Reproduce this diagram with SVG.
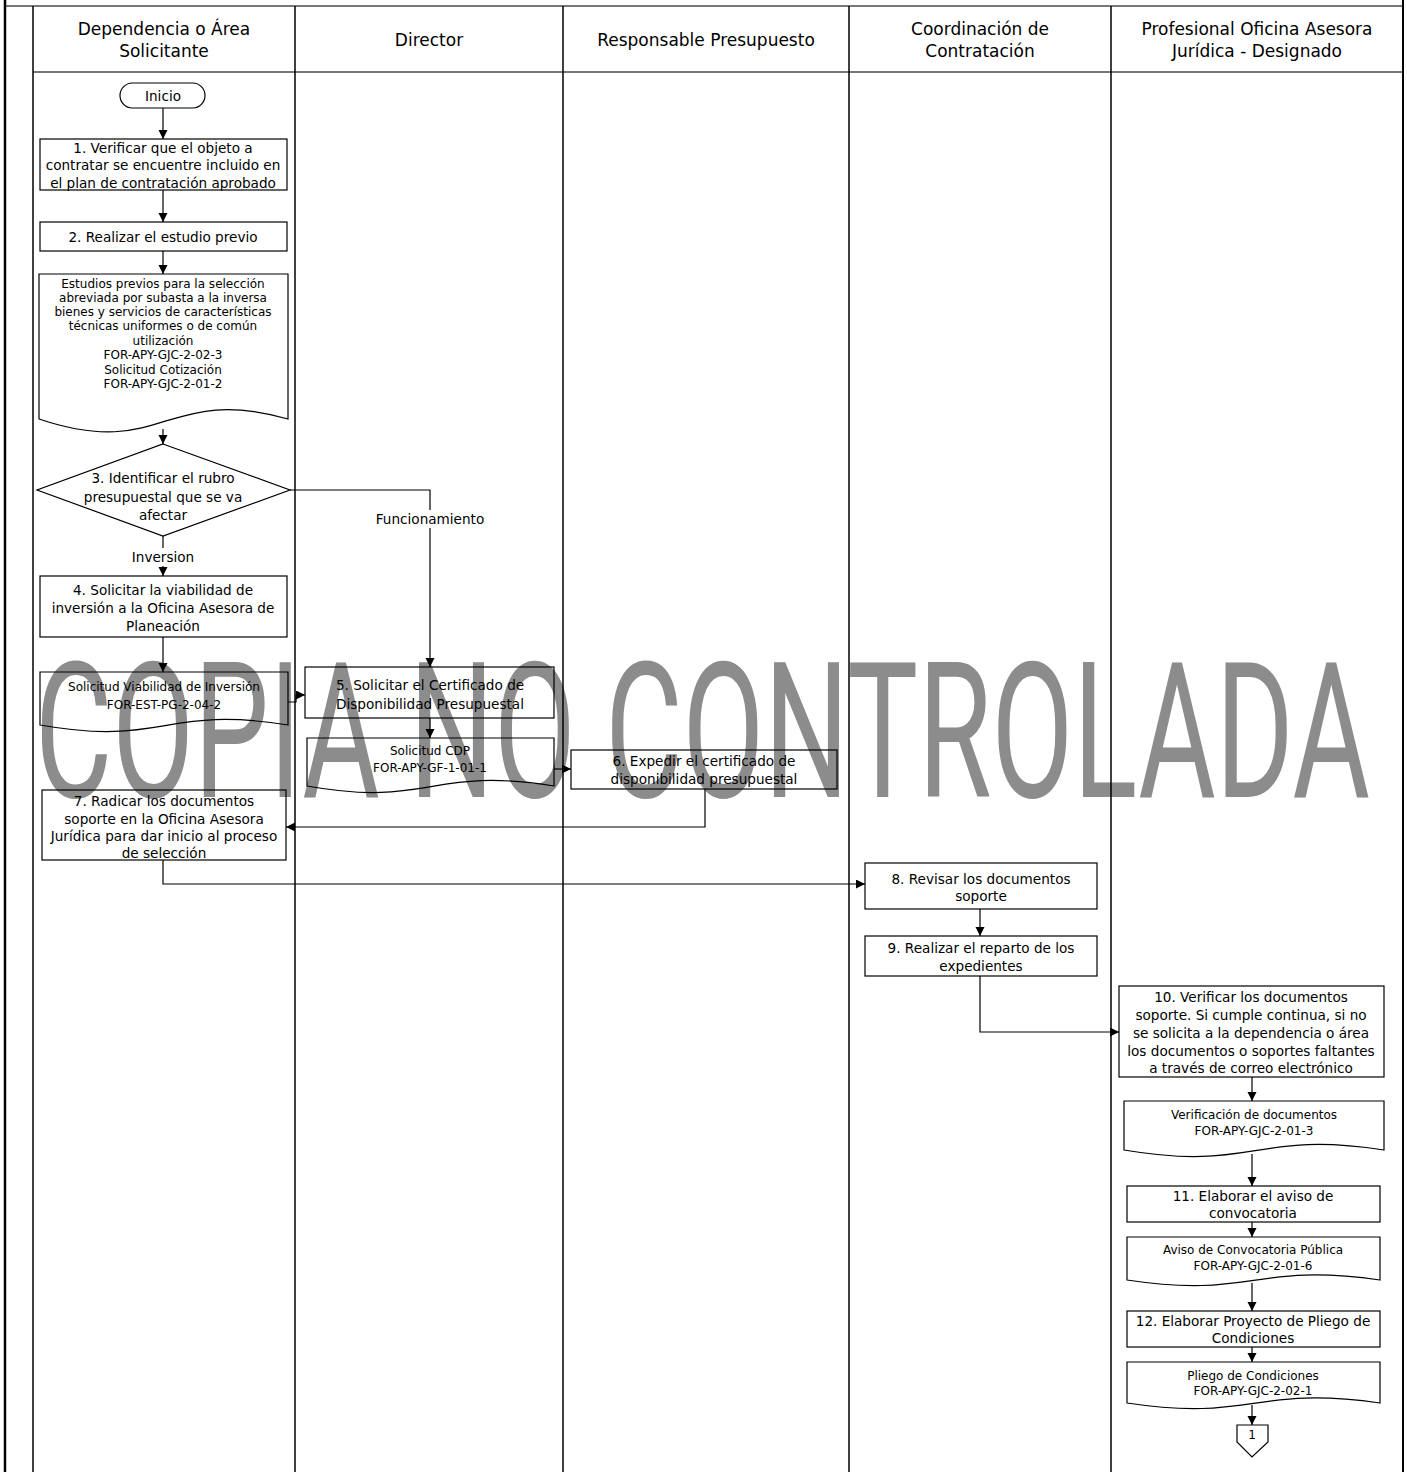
<svg xmlns="http://www.w3.org/2000/svg" width="1407" height="1472" viewBox="0 0 1407 1472">
<defs>
<marker id="arr" markerUnits="userSpaceOnUse" markerWidth="10" markerHeight="10" refX="9" refY="4.5" orient="auto">
<path d="M0,0 L9,4.5 L0,9 z" fill="#000"/>
</marker>
<style>
text{font-family:"DejaVu Sans",Verdana,sans-serif;fill:#000;text-anchor:middle;dominant-baseline:central}
.h{font-size:17px}
.t{font-size:13.6px}
.s{font-size:12px}
.shape{fill:none;stroke:#000;stroke-width:1.2}
.lane{stroke:#000;stroke-width:1.5;fill:none}
.gline{stroke:#777;stroke-width:2;fill:none}
.c{fill:none;stroke:#000;stroke-width:1.2}
.ca{fill:none;stroke:#000;stroke-width:1.2;marker-end:url(#arr)}
.wm{font-family:Roboto,"DejaVu Sans",sans-serif;font-weight:400;font-size:190px;fill:#8c8c8c;text-anchor:start;dominant-baseline:alphabetic}
</style>
</defs>
<rect x="0" y="0" width="1407" height="1472" fill="#fff"/>
<text class="wm" x="35" y="797" textLength="1335" lengthAdjust="spacingAndGlyphs">COPIA NO CONTROLADA</text>

<g id="pool">
<line class="gline" x1="5" y1="6" x2="1403" y2="6"/>
<line class="gline" x1="33" y1="72" x2="1403" y2="72"/>
<line class="lane" x1="5" y1="0" x2="5" y2="1472" style="stroke-width:2.5"/>
<line class="lane" x1="1403" y1="0" x2="1403" y2="1472" style="stroke-width:2"/>
<line class="lane" x1="33" y1="6" x2="33" y2="1472"/>
<line class="lane" x1="295" y1="6" x2="295" y2="1472"/>
<line class="lane" x1="563" y1="6" x2="563" y2="1472"/>
<line class="lane" x1="849" y1="6" x2="849" y2="1472"/>
<line class="lane" x1="1111" y1="6" x2="1111" y2="1472"/>
<text class="h" x="164" y="29">Dependencia o Área</text>
<text class="h" x="164" y="51">Solicitante</text>
<text class="h" x="429" y="40">Director</text>
<text class="h" x="706" y="40">Responsable Presupuesto</text>
<text class="h" x="980" y="29">Coordinación de</text>
<text class="h" x="980" y="51">Contratación</text>
<text class="h" x="1257" y="29">Profesional Oficina Asesora</text>
<text class="h" x="1257" y="51">Jurídica - Designado</text>
</g>

<g id="connectors">
<line class="ca" x1="163" y1="108" x2="163" y2="139"/>
<line class="ca" x1="163" y1="190" x2="163" y2="222"/>
<line class="ca" x1="163" y1="251" x2="163" y2="274"/>
<line class="ca" x1="163" y1="429" x2="163" y2="444"/>
<line class="ca" x1="163" y1="536" x2="163" y2="576"/>
<polyline class="ca" points="290,490 430,490 430,667"/>
<line class="ca" x1="163" y1="637" x2="163" y2="672"/>
<polyline class="ca" points="288,702 296,702 296,695 305,695"/>
<line class="ca" x1="430" y1="718" x2="430" y2="738"/>
<line class="ca" x1="554" y1="769" x2="571" y2="769"/>
<polyline class="ca" points="705,789 705,827 286,827"/>
<polyline class="ca" points="163,860 163,884 865,884"/>
<line class="ca" x1="980" y1="909" x2="980" y2="936"/>
<polyline class="ca" points="980,976 980,1032 1119,1032"/>
<line class="ca" x1="1252" y1="1077" x2="1252" y2="1101"/>
<line class="ca" x1="1252" y1="1154" x2="1252" y2="1186"/>
<line class="ca" x1="1252" y1="1222" x2="1252" y2="1237"/>
<line class="ca" x1="1252" y1="1283" x2="1252" y2="1311"/>
<line class="ca" x1="1252" y1="1347" x2="1252" y2="1362"/>
<line class="ca" x1="1252" y1="1405" x2="1252" y2="1425"/>
<rect x="126" y="548" width="74" height="18" fill="#fff"/>
<text class="t" x="163" y="557">Inversion</text>
<rect x="372" y="510" width="116" height="18" fill="#fff"/>
<text class="t" x="430" y="519">Funcionamiento</text>
</g>

<g id="inicio">
<rect class="shape" x="120" y="83" width="85" height="25" rx="12.5"/>
<text class="t" x="163" y="96">Inicio</text>
</g>

<g id="n1">
<rect class="shape" x="40" y="139" width="247" height="51"/>
<text class="t" x="163" y="147.5">1. Verificar que el objeto a</text>
<text class="t" x="163" y="165">contratar se encuentre incluido en</text>
<text class="t" x="163" y="182.5">el plan de contratación aprobado</text>
</g>

<g id="n2">
<rect class="shape" x="40" y="222" width="247" height="29"/>
<text class="t" x="163" y="237">2. Realizar el estudio previo</text>
</g>

<g id="docA">
<path class="shape" d="M39,274 H288 V419 C164,384 164,461 39,419 Z"/>
<text class="s" x="163" y="284">Estudios previos para la selección</text>
<text class="s" x="163" y="298">abreviada por subasta a la inversa</text>
<text class="s" x="163" y="312">bienes y servicios de características</text>
<text class="s" x="163" y="326">técnicas  uniformes o de común</text>
<text class="s" x="163" y="341">utilización</text>
<text class="s" x="163" y="355">FOR-APY-GJC-2-02-3</text>
<text class="s" x="163" y="370">Solicitud Cotización</text>
<text class="s" x="163" y="384">FOR-APY-GJC-2-01-2</text>
</g>

<g id="n3">
<polygon class="shape" points="163,444 290,490 163,536 37,490"/>
<text class="t" x="163" y="478">3. Identificar el rubro</text>
<text class="t" x="163" y="497">presupuestal que se va</text>
<text class="t" x="163" y="515">afectar</text>
</g>

<g id="n4">
<rect class="shape" x="40" y="576" width="247" height="61"/>
<text class="t" x="163" y="590">4. Solicitar la viabilidad de</text>
<text class="t" x="163" y="608">inversión a la Oficina Asesora de</text>
<text class="t" x="163" y="626">Planeación</text>
</g>

<g id="docB">
<path class="shape" d="M40,672 H288 V725 C164,705 164,747 40,725 Z"/>
<text class="s" x="164" y="687">Solicitud Viabilidad de Inversión</text>
<text class="s" x="164" y="705">FOR-EST-PG-2-04-2</text>
</g>

<g id="n5">
<rect class="shape" x="305" y="667" width="249" height="51"/>
<text class="t" x="430" y="685">5. Solicitar el Certificado de</text>
<text class="t" x="430" y="704">Disponibilidad Presupuestal</text>
</g>

<g id="docC">
<path class="shape" d="M307,738 H554 V786 C430,766 430,808 307,786 Z"/>
<text class="s" x="430" y="751">Solicitud CDP</text>
<text class="s" x="430" y="768">FOR-APY-GF-1-01-1</text>
</g>

<g id="n6">
<rect class="shape" x="571" y="750" width="266" height="39"/>
<text class="t" x="704" y="760.5">6. Expedir el certificado de</text>
<text class="t" x="704" y="778.5">disponibilidad presupuestal</text>
</g>

<g id="n7">
<rect class="shape" x="42" y="790" width="244" height="70"/>
<text class="t" x="164" y="801">7. Radicar los documentos</text>
<text class="t" x="164" y="818.5">soporte en la Oficina Asesora</text>
<text class="t" x="164" y="836">Jurídica para dar inicio al proceso</text>
<text class="t" x="164" y="852.5">de selección</text>
</g>

<g id="n8">
<rect class="shape" x="865" y="863" width="232" height="46"/>
<text class="t" x="981" y="879">8. Revisar los documentos</text>
<text class="t" x="981" y="896">soporte</text>
</g>

<g id="n9">
<rect class="shape" x="865" y="936" width="232" height="40"/>
<text class="t" x="981" y="948">9. Realizar el reparto de los</text>
<text class="t" x="981" y="966">expedientes</text>
</g>

<g id="n10">
<rect class="shape" x="1119" y="986" width="265" height="91"/>
<text class="t" x="1251" y="997">10. Verificar los documentos</text>
<text class="t" x="1251" y="1015">soporte. Si cumple continua, si no</text>
<text class="t" x="1251" y="1033">se solicita a la dependencia o área</text>
<text class="t" x="1251" y="1051">los documentos o soportes faltantes</text>
<text class="t" x="1251" y="1068">a través de correo electrónico</text>
</g>

<g id="docD">
<path class="shape" d="M1124,1101 H1384 V1150 C1254,1130 1254,1172 1124,1150 Z"/>
<text class="s" x="1254" y="1115">Verificación de documentos</text>
<text class="s" x="1254" y="1131">FOR-APY-GJC-2-01-3</text>
</g>

<g id="n11">
<rect class="shape" x="1127" y="1186" width="253" height="36"/>
<text class="t" x="1253" y="1196">11. Elaborar el aviso de</text>
<text class="t" x="1253" y="1213">convocatoria</text>
</g>

<g id="docE">
<path class="shape" d="M1127,1237 H1380 V1280 C1253,1262 1253,1299 1127,1280 Z"/>
<text class="s" x="1253" y="1250">Aviso de Convocatoria Pública</text>
<text class="s" x="1253" y="1266">FOR-APY-GJC-2-01-6</text>
</g>

<g id="n12">
<rect class="shape" x="1127" y="1311" width="253" height="36"/>
<text class="t" x="1253" y="1321">12. Elaborar Proyecto de Pliego de</text>
<text class="t" x="1253" y="1338">Condiciones</text>
</g>

<g id="docF">
<path class="shape" d="M1127,1362 H1380 V1403 C1253,1385 1253,1422 1127,1403 Z"/>
<text class="s" x="1253" y="1376">Pliego de Condiciones</text>
<text class="s" x="1253" y="1391">FOR-APY-GJC-2-02-1</text>
</g>

<g id="offpage1">
<polygon class="shape" points="1237,1425 1268,1425 1268,1442 1252,1457 1237,1442"/>
<text class="s" x="1252" y="1435">1</text>
</g>
</svg>
